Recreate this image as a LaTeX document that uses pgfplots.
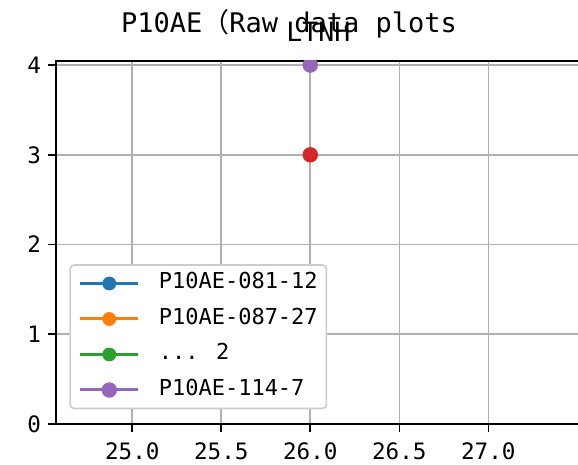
\documentclass[border=0pt]{standalone}
\usepackage{fontspec}
\setmainfont{DejaVu Sans Mono}
\newfontfamily\cjk{Noto Sans CJK SC}
\usepackage{pgfplots}
\pgfplotsset{compat=1.18}

\definecolor{mplblue}{HTML}{1f77b4}
\definecolor{mplorange}{HTML}{ff7f0e}
\definecolor{mplgreen}{HTML}{2ca02c}
\definecolor{mplred}{HTML}{d62728}
\definecolor{mplpurple}{HTML}{9467bd}
\definecolor{gridgray}{HTML}{b0b0b0}
\definecolor{legendgray}{HTML}{cccccc}

\begin{document}
\begin{tikzpicture}
  \begin{axis}[
    at={(0,0)}, anchor=south west,
    scale only axis, width=262.6pt, height=181.7pt,
    xmin=24.57, xmax=27.52, ymin=0, ymax=4.05,
    xtick={25,25.5,26,26.5,27}, ytick={0,1,2,3,4},
    x tick label style={yshift=-2pt, /pgf/number format/.cd, fixed, fixed zerofill, precision=1},
    /pgf/number format/assume math mode=true,
    tick label style={font=\fontsize{11.3}{13}\selectfont},
    tick align=outside, tick pos=left,
    major tick length=3.8pt,
    every tick/.style={black, line width=0.8pt},
    axis line style={line width=1pt},
    grid=major, grid style={gridgray, line width=0.8pt},
    clip mode=individual, clip marker paths=true,
    title={LTNH},
    title style={at={(0.5,1)}, anchor=base, yshift=3.5pt, font=\fontsize{13.3}{15}\selectfont},
    legend image code/.code={\draw[mark repeat=2, mark phase=2, #1] plot coordinates {(0pt,0pt) (14.5pt,0pt) (29pt,0pt)};},
    legend cell align=left,
    legend style={at={(0,0)}, anchor=south west, xshift=6.8pt, yshift=7.35pt,
      draw=legendgray, line width=0.8pt, rounded corners=2pt, fill=white,
      font=\fontsize{11}{13}\selectfont, inner xsep=4.35pt, inner ysep=4pt,
      row sep=7.25pt, column sep=9.5pt,
      nodes={inner sep=0pt, text height=8pt, text depth=2.5pt}},
  ]
    \addlegendimage{mplblue, line width=1.5pt, mark=*, mark size=3.2pt, mark options={line width=0.5pt}}
    \addlegendentry{P10AE-081-12}
    \addlegendimage{mplorange, line width=1.5pt, mark=*, mark size=3.2pt, mark options={line width=0.5pt}}
    \addlegendentry{P10AE-087-27}
    \addlegendimage{mplgreen, line width=1.5pt, mark=*, mark size=3.2pt, mark options={line width=0.5pt}}
    \addlegendentry{... 2}
    \addplot[mplred, line width=1.5pt, mark=*, mark size=3.6pt, mark options={line width=0.5pt}, forget plot] coordinates {(26,3)};
    \addplot[mplpurple, line width=1.5pt, mark=*, mark size=3.6pt, mark options={line width=0.5pt}] coordinates {(26,4)};
    \addlegendentry{P10AE-114-7}
  \end{axis}
  \node[anchor=base, font=\fontsize{13.5}{15}\selectfont] at (116.65pt,195.5pt) {P10AE{\cjk （}Raw data plots};
  \pgfresetboundingbox
  \useasboundingbox (-27.85pt,-20.5pt) rectangle (261.15pt,212pt);
\end{tikzpicture}
\end{document}
